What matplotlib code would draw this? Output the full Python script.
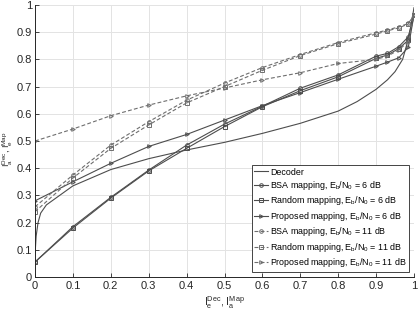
import matplotlib
matplotlib.use("Agg")
import matplotlib.pyplot as plt

plt.rcParams['font.family'] = ['Liberation Sans', 'DejaVu Sans']
plt.rcParams['mathtext.fontset'] = 'custom'
plt.rcParams['mathtext.rm'] = 'Liberation Sans'
plt.rcParams['mathtext.it'] = 'Liberation Sans:italic'

# Decoder curve
dec_x = [0.0, 0.003, 0.008, 0.015, 0.03, 0.05, 0.1, 0.2, 0.3, 0.4, 0.5, 0.6,
         0.7, 0.8, 0.85, 0.9, 0.93, 0.95, 0.97, 0.98, 0.99, 1.0]
dec_y = [0.08, 0.15, 0.2, 0.235, 0.265, 0.285, 0.335, 0.395, 0.435, 0.467, 0.495, 0.528,
         0.565, 0.61, 0.645, 0.69, 0.725, 0.755, 0.80, 0.85, 0.91, 0.99]

# Mapping curves
map_x = [0.0, 0.1, 0.2, 0.3, 0.4, 0.5, 0.6, 0.7, 0.8, 0.9, 0.93, 0.96, 0.985, 1.0]
bsa6 = [0.055, 0.185, 0.293, 0.393, 0.485, 0.562, 0.628, 0.694, 0.743, 0.812, 0.822, 0.847, 0.883, 0.963]
rnd6 = [0.055, 0.18, 0.29, 0.39, 0.473, 0.553, 0.626, 0.685, 0.736, 0.804, 0.816, 0.84, 0.871, 0.963]
prop6 = [0.28, 0.35, 0.418, 0.48, 0.524, 0.577, 0.63, 0.678, 0.727, 0.775, 0.79, 0.806, 0.845, 0.963]
bsa11 = [0.258, 0.375, 0.485, 0.571, 0.65, 0.713, 0.77, 0.818, 0.862, 0.898, 0.908, 0.92, 0.932, 0.963]
rnd11 = [0.24, 0.364, 0.473, 0.559, 0.64, 0.70, 0.76, 0.814, 0.858, 0.893, 0.905, 0.916, 0.93, 0.963]
prop11 = [0.5, 0.544, 0.593, 0.632, 0.666, 0.695, 0.725, 0.751, 0.785, 0.80, 0.812, 0.835, 0.865, 0.963]

labels = ['Decoder',
          r'BSA mapping, E$_\mathrm{b}$/N$_\mathrm{0}$ = 6 dB',
          r'Random mapping, E$_\mathrm{b}$/N$_\mathrm{0}$ = 6 dB',
          r'Proposed mapping, E$_\mathrm{b}$/N$_\mathrm{0}$ = 6 dB',
          r'BSA mapping, E$_\mathrm{b}$/N$_\mathrm{0}$ = 11 dB',
          r'Random mapping, E$_\mathrm{b}$/N$_\mathrm{0}$ = 11 dB',
          r'Proposed mapping, E$_\mathrm{b}$/N$_\mathrm{0}$ = 11 dB']

fig = plt.figure(figsize=(4.19, 3.14), dpi=100)
ax = fig.add_axes([35/419, 1-277/314, (414-35)/419, (277-5)/314])

c6 = '#4d4d4d'
c11 = '#6e6e6e'
ms = 2.6
ax.plot(dec_x, dec_y, '-', color=c6, lw=0.8, label=labels[0])
ax.plot(map_x, bsa6, '-', color=c6, lw=0.8, marker='o', ms=ms, mfc='none', mew=0.7, label=labels[1])
ax.plot(map_x, rnd6, '-', color=c6, lw=0.8, marker='s', ms=ms, mfc='none', mew=0.7, label=labels[2])
ax.plot(map_x, prop6, '-', color=c6, lw=0.8, marker='>', ms=ms, mfc='none', mew=0.7, label=labels[3])
ax.plot(map_x, bsa11, '--', color=c11, lw=0.8, marker='o', ms=ms, mfc='none', mew=0.7, dashes=(3.5, 2), label=labels[4])
ax.plot(map_x, rnd11, '--', color=c11, lw=0.8, marker='s', ms=ms, mfc='none', mew=0.7, dashes=(3.5, 2), label=labels[5])
ax.plot(map_x, prop11, '--', color=c11, lw=0.8, marker='>', ms=ms, mfc='none', mew=0.7, dashes=(3.5, 2), label=labels[6])

ax.set_xlim(0, 1)
ax.set_ylim(0, 1)
ticks = [0, 0.1, 0.2, 0.3, 0.4, 0.5, 0.6, 0.7, 0.8, 0.9, 1]
ticklabels = ['0', '0.1', '0.2', '0.3', '0.4', '0.5', '0.6', '0.7', '0.8', '0.9', '1']
ax.set_xticks(ticks)
ax.set_xticklabels(ticklabels)
ax.set_yticks(ticks)
ax.set_yticklabels(ticklabels)
ax.grid(True, color='#e3e3e3', lw=0.7)
ax.set_axisbelow(True)
for s in ['top', 'right']:
    ax.spines[s].set_visible(False)
for s in ['left', 'bottom']:
    ax.spines[s].set_color('#262626')
    ax.spines[s].set_linewidth(0.7)
ax.tick_params(direction='in', length=3, width=0.6, colors='#262626', labelsize=8)
ax.tick_params(axis='y', pad=2)
ax.tick_params(axis='x', pad=3)

ax.set_xlabel(r'I$_\mathrm{e}^\mathrm{Dec}$, I$_\mathrm{a}^\mathrm{Map}$', fontsize=7.5, color='#262626', labelpad=2)
ax.set_ylabel(r'I$_\mathrm{a}^\mathrm{Dec}$, I$_\mathrm{e}^\mathrm{Map}$', fontsize=6.5, color='#262626')
ax.yaxis.set_label_coords(-0.053, 0.47)

leg = ax.legend(loc='lower right', fontsize=6.4, frameon=True, fancybox=False,
                edgecolor='#262626', framealpha=1, borderpad=0.25, labelspacing=0.28,
                handlelength=1.6, handletextpad=0.2, borderaxespad=0.6)
leg.get_frame().set_linewidth(0.6)

fig.savefig('out.png', dpi=100)
